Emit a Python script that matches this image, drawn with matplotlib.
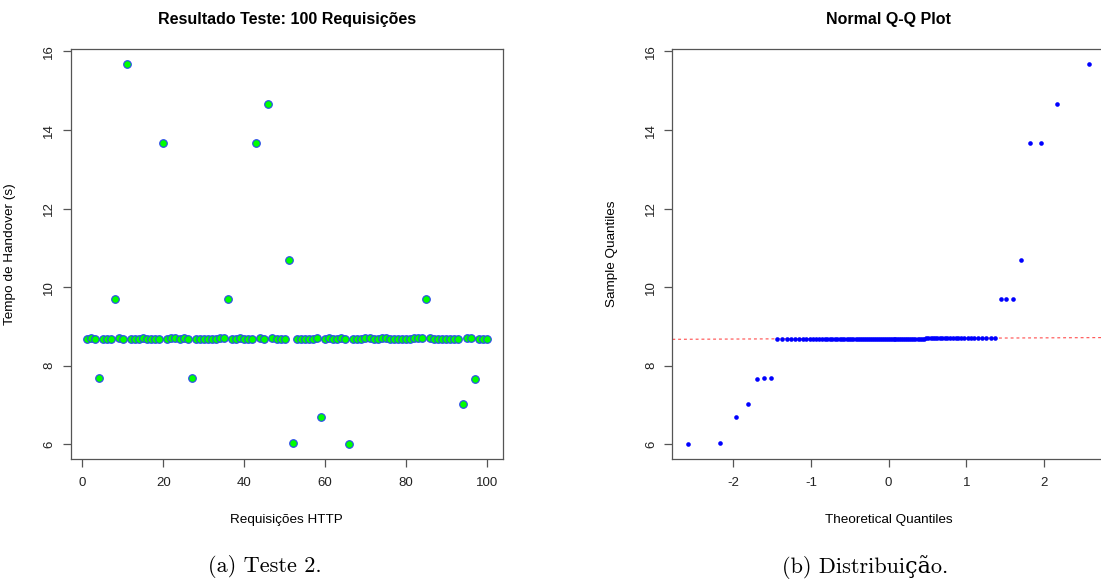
import numpy as np
import matplotlib
matplotlib.use("Agg")
import matplotlib.pyplot as plt
from statistics import NormalDist

plt.rcParams["axes.unicode_minus"] = False

# Tempo de handover (s) for each of the 100 HTTP requests
requisicoes = np.arange(1, 101)
tempo = np.array([
    8.69, 8.70, 8.69, 7.70, 8.69, 8.69, 8.69, 9.69, 8.70, 8.69,
    15.67, 8.69, 8.69, 8.69, 8.70, 8.69, 8.69, 8.69, 8.68, 13.68,
    8.69, 8.70, 8.71, 8.69, 8.71, 8.69, 7.69, 8.69, 8.69, 8.68,
    8.68, 8.68, 8.69, 8.70, 8.71, 9.69, 8.69, 8.69, 8.71, 8.69,
    8.68, 8.69, 13.68, 8.70, 8.69, 14.67, 8.70, 8.69, 8.69, 8.69,
    10.68, 6.04, 8.69, 8.69, 8.68, 8.68, 8.69, 8.71, 6.69, 8.69,
    8.70, 8.69, 8.69, 8.71, 8.69, 6.02, 8.69, 8.69, 8.69, 8.70,
    8.70, 8.69, 8.69, 8.71, 8.71, 8.69, 8.69, 8.69, 8.68, 8.69,
    8.69, 8.70, 8.71, 8.71, 9.69, 8.70, 8.69, 8.69, 8.69, 8.69,
    8.69, 8.69, 8.68, 7.03, 8.70, 8.71, 7.67, 8.69, 8.69, 8.69,
])
xticks_a = [0, 20, 40, 60, 80, 100]
xticks_b = [-2, -1, 0, 1, 2]
yticks = [6, 8, 10, 12, 14, 16]

FONT = ["Liberation Sans", "DejaVu Sans"]
SERIF = ["cmr10", "DejaVu Serif"]
FRAME = "#555555"


def r_style(ax, xlim, ylim, xticks):
    # R base-graphics look: full box, outward ticks, rotated y labels
    ax.set_xlim(*xlim)
    ax.set_ylim(*ylim)
    ax.set_xticks(xticks)
    ax.set_yticks(yticks)
    for s in ax.spines.values():
        s.set_color(FRAME)
        s.set_linewidth(0.9)
    ax.tick_params(direction="out", length=6, width=0.9, color=FRAME,
                   labelsize=9.5, labelcolor="#222222")
    ax.tick_params(axis="x", pad=7)
    ax.tick_params(axis="y", pad=5)
    for lab in ax.get_yticklabels():
        lab.set_rotation(90)
        lab.set_va("center")
    for lab in ax.get_xticklabels() + ax.get_yticklabels():
        lab.set_family(FONT)


def padded(lo, hi):
    r = hi - lo
    return lo - 0.04 * r, hi + 0.04 * r


fig = plt.figure(figsize=(11.01, 5.88), dpi=100)
W, H = 1101.0, 588.0
bot = (H - 458.7) / H
hgt = (458.7 - 49.3) / H
ylim = padded(tempo.min(), tempo.max())

# (a) scatter of the test
ax1 = fig.add_axes([70.5 / W, bot, (502.8 - 70.5) / W, hgt])
ax1.scatter(requisicoes, tempo, s=30, c="#00ff00", edgecolors="#2b48f0",
            linewidths=0.8, zorder=3)
r_style(ax1, padded(1, 100), ylim, xticks_a)
ax1.set_title("Resultado Teste: 100 Requisições", fontsize=11.5,
              fontweight="bold", family=FONT, pad=18)
ax1.set_xlabel("Requisições HTTP", fontsize=9.7, family=FONT)
ax1.set_ylabel("Tempo de Handover (s)", fontsize=9.7, family=FONT)
ax1.xaxis.set_label_coords(0.5, -0.135)
ax1.yaxis.set_label_coords(-0.126, 0.5)

# (b) normal Q-Q plot
n = len(tempo)
amostra = np.sort(tempo)
teorico = np.array([NormalDist().inv_cdf((i - 0.5) / n) for i in range(1, n + 1)])
q1, q3 = np.quantile(tempo, [0.25, 0.75])
t1, t3 = NormalDist().inv_cdf(0.25), NormalDist().inv_cdf(0.75)
slope = (q3 - q1) / (t3 - t1)
inter = q1 - slope * t1

ax2 = fig.add_axes([672.3 / W, bot, (1105.0 - 672.3) / W, hgt])
ax2.scatter(teorico, amostra, s=11, c="#0000ff", linewidths=0, zorder=3)
ax2.axline((0, inter), slope=slope, color="#ff3333", lw=0.7,
           ls=(0, (3, 3)), zorder=2)
r_style(ax2, padded(teorico.min(), teorico.max()), ylim, xticks_b)
ax2.set_title("Normal Q-Q Plot", fontsize=11.5, fontweight="bold",
              family=FONT, pad=18)
ax2.set_xlabel("Theoretical Quantiles", fontsize=9.7, family=FONT)
ax2.set_ylabel("Sample Quantiles", fontsize=9.7, family=FONT)
ax2.xaxis.set_label_coords(0.5, -0.135)
ax2.yaxis.set_label_coords(-0.1255, 0.5)

fig.text(265 / W, 1 - 567 / H, "(a) Teste 2.", fontsize=16, family=SERIF,
         ha="center", va="center")
fig.text(865 / W, 1 - 567 / H, "(b) Distribuição.", fontsize=16, family=SERIF,
         ha="center", va="center")

fig.savefig("out.png", dpi=100)
